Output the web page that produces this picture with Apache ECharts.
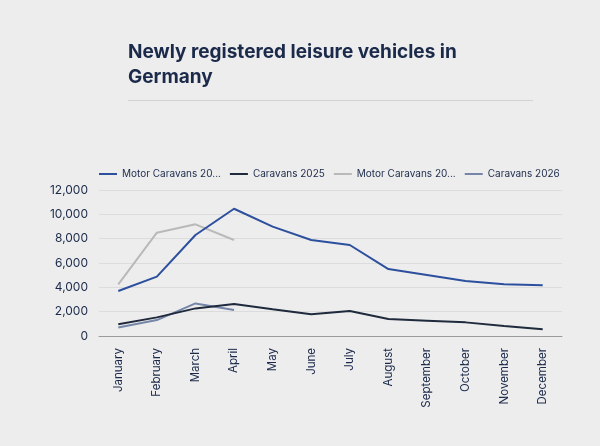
<!DOCTYPE html>
<html>
<head>
<meta charset="utf-8">
<script src="https://cdn.jsdelivr.net/npm/echarts@6/dist/echarts.min.js"></script>
<style>
  html, body { margin: 0; padding: 0; background: #ededed; }
  #main { width: 600px; height: 446px; }
</style>
</head>
<body>
<div id="main"></div>
<script type="text/javascript">
var months = ['January', 'February', 'March', 'April', 'May', 'June', 'July', 'August', 'September', 'October', 'November', 'December'];
var motor2025 = [3700, 4880, 8300, 10460, 8990, 7890, 7480, 5500, 5010, 4520, 4250, 4170];
var caravans2025 = [960, 1530, 2270, 2630, 2190, 1780, 2050, 1400, 1260, 1120, 820, 550];
var motor2026 = [4250, 8490, 9180, 7890];
var caravans2026 = [690, 1310, 2680, 2140];
var seriesNames = ['Motor Caravans 2025', 'Caravans 2025', 'Motor Caravans 2026', 'Caravans 2026'];
var seriesColors = ['#2c4f9e', '#1f2a3c', '#b9b9b9', '#7586a8'];

var textColor = '#1b2a4a';
var font = 'Inter';

function lineSeries(i, data) {
    return {
        name: seriesNames[i],
        type: 'line',
        data: data,
        symbol: 'none',
        color: seriesColors[i],
        lineStyle: { width: 2, color: seriesColors[i] },
        z: 10 - i
    };
}

var chart = echarts.init(document.getElementById('main'));
chart.setOption({
    backgroundColor: '#ededed',
    animation: false,
    title: {
        text: 'Newly registered leisure vehicles in\nGermany',
        left: 123,
        top: 35,
        textStyle: {
            fontFamily: font,
            fontSize: 19,
            fontWeight: 'bold',
            color: textColor,
            lineHeight: 25
        }
    },
    graphic: [{
        type: 'line',
        shape: { x1: 128, y1: 100.5, x2: 533, y2: 100.5 },
        style: { stroke: '#d2d2d2', lineWidth: 1 }
    }],
    legend: {
        left: 94,
        top: 164,
        itemWidth: 18,
        itemHeight: 10,
        itemGap: 9,
        icon: 'path://M0,4L18,4L18,6L0,6Z',
        formatter: function (name) {
            return name.length > 16 ? name.slice(0, 17) + '...' : name;
        },
        textStyle: { fontFamily: font, fontSize: 10, color: textColor }
    },
    grid: { left: 99, right: 38, top: 190, bottom: 110 },
    xAxis: {
        type: 'category',
        data: months,
        boundaryGap: true,
        axisLine: { lineStyle: { color: '#9a9a9a' } },
        axisTick: { show: false },
        axisLabel: {
            rotate: 90,
            margin: 12,
            fontFamily: font,
            fontSize: 11.5,
            color: textColor
        }
    },
    yAxis: {
        type: 'value',
        min: 0,
        max: 12000,
        interval: 2000,
        axisLine: { show: false },
        axisTick: { show: false },
        splitLine: { lineStyle: { color: '#dcdcdc' } },
        axisLabel: {
            margin: 11,
            fontFamily: font,
            fontSize: 12,
            color: textColor,
            formatter: function (v) { return v.toLocaleString('en-US'); }
        }
    },
    series: [
        lineSeries(0, motor2025),
        lineSeries(1, caravans2025),
        lineSeries(2, motor2026),
        lineSeries(3, caravans2026)
    ]
});
</script>
</body>
</html>
